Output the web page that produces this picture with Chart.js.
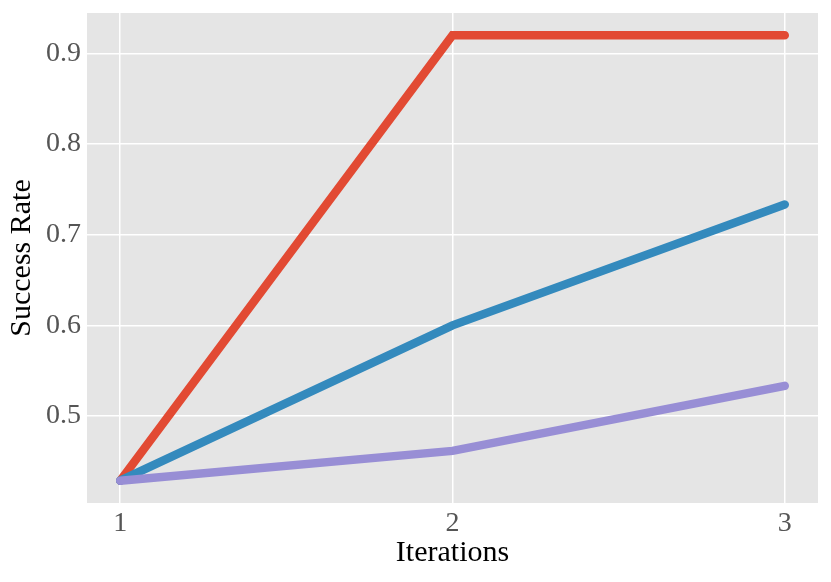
<!DOCTYPE html>
<html>
<head>
<meta charset="utf-8">
<script src="https://cdn.jsdelivr.net/npm/chart.js@4"></script>
<style>
  html, body { margin: 0; padding: 0; background: #fff; }
  #wrap { width: 831px; height: 582px; }
</style>
</head>
<body>
<div id="wrap"><canvas id="rateChart" width="831" height="582"></canvas></div>
<script>
// Data
const iterations = [1, 2, 3];
const redRates = [0.4286, 0.92, 0.92];
const blueRates = [0.4286, 0.60, 0.7333];
const purpleRates = [0.4286, 0.4615, 0.5333];
const xTicks = [1, 2, 3];
const yTicks = [0.5, 0.6, 0.7, 0.8, 0.9];

const FONT = "'Liberation Serif', 'Times New Roman', serif";

function toPoints(values) {
    return iterations.map((it, i) => ({ x: it, y: values[i] }));
}

// grey panel behind the plot, ggplot style
const panelBg = {
    id: 'panelBg',
    beforeDraw(chart) {
        const { ctx, chartArea: a } = chart;
        ctx.save();
        ctx.fillStyle = '#E5E5E5';
        ctx.fillRect(a.left, a.top, a.right - a.left, a.bottom - a.top);
        ctx.restore();
    }
};

function series(values, color, order) {
    return {
        data: toPoints(values),
        borderColor: color,
        backgroundColor: color,
        borderWidth: 8.5,
        borderCapStyle: 'round',
        borderJoinStyle: 'miter',
        pointRadius: 0,
        tension: 0,
        order: order
    };
}

const ctx = document.getElementById('rateChart').getContext('2d');
new Chart(ctx, {
    type: 'line',
    data: {
        datasets: [
            series(redRates, '#E24A33', 3),
            series(blueRates, '#348ABD', 2),
            series(purpleRates, '#988ED5', 1)
        ]
    },
    options: {
        responsive: false,
        animation: false,
        layout: { padding: { left: 0, right: 13, top: 13, bottom: 0 } },
        plugins: {
            legend: { display: false },
            tooltip: { enabled: false }
        },
        scales: {
            x: {
                type: 'linear',
                min: 0.9,
                max: 3.1,
                afterBuildTicks: (scale) => { scale.ticks = xTicks.map(v => ({ value: v })); },
                afterFit: (scale) => {
                    scale.height = 79;
                    scale.paddingLeft = 0;
                    scale.paddingRight = 0;
                },
                grid: { color: '#FFFFFF', lineWidth: 1.5, drawTicks: false },
                border: { display: false },
                ticks: {
                    color: '#555555',
                    font: { family: FONT, size: 28 },
                    padding: 4,
                    callback: (v) => String(v)
                },
                title: {
                    display: true,
                    text: 'Iterations',
                    color: '#000000',
                    font: { family: FONT, size: 30 },
                    padding: { top: 0, bottom: 11 }
                }
            },
            y: {
                type: 'linear',
                min: 0.404,
                max: 0.9446,
                afterBuildTicks: (scale) => { scale.ticks = yTicks.map(v => ({ value: v })); },
                afterFit: (scale) => {
                    scale.width = 87;
                    scale.paddingTop = 0;
                    scale.paddingBottom = 0;
                },
                grid: { color: '#FFFFFF', lineWidth: 1.5, drawTicks: false },
                border: { display: false },
                ticks: {
                    color: '#555555',
                    font: { family: FONT, size: 28 },
                    padding: 6,
                    callback: (v) => v.toFixed(1)
                },
                title: {
                    display: true,
                    text: 'Success Rate',
                    color: '#000000',
                    font: { family: FONT, size: 30 },
                    padding: { top: 4, bottom: 0 }
                }
            }
        }
    },
    plugins: [panelBg]
});
</script>
</body>
</html>
